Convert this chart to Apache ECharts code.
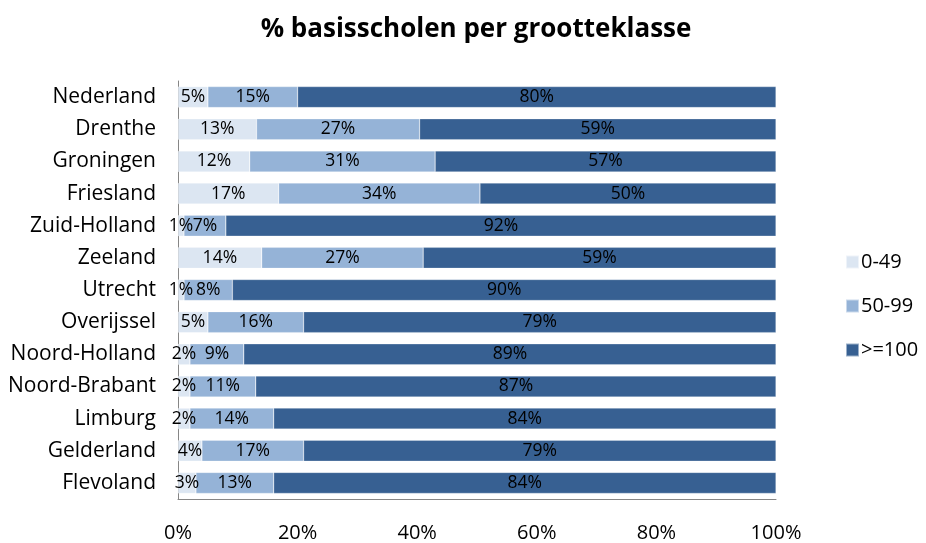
<!DOCTYPE html>
<html><head><meta charset="utf-8">
<script src="https://cdn.jsdelivr.net/npm/echarts@6/dist/echarts.min.js"></script>
<style>html,body{margin:0;padding:0;background:#fff}#c{width:926px;height:543px}</style>
</head><body><div id="c"></div>
<script>
const categories = ['Nederland','Drenthe','Groningen','Friesland','Zuid-Holland','Zeeland','Utrecht','Overijssel','Noord-Holland','Noord-Brabant','Limburg','Gelderland','Flevoland'];
const small = [5,13,12,17,1,14,1,5,2,2,2,4,3];
const medium = [15,27,31,34,7,27,8,16,9,11,14,17,13];
const large = [80,59,57,50,92,59,90,79,89,87,84,79,84];
const seriesNames = ['0-49','50-99','>=100'];
const xTicks = ['0%','20%','40%','60%','80%','100%'];
const colors = ['#dce6f2','#95b3d7','#376092'];
const FONT = 'Open Sans';

const totals = categories.map((c,i)=>small[i]+medium[i]+large[i]);
function mk(name, arr, color){
  return {
    name, type:'bar', stack:'all', barWidth:21,
    itemStyle:{color, borderColor:'rgba(255,255,255,0.5)', borderWidth:0.5},
    label:{show:true, position:'inside', color:'#000', fontFamily:FONT, fontSize:17.5,
      formatter:p=>arr[p.dataIndex]+'%'},
    data: arr.map((v,i)=>v/totals[i]*100)
  };
}
const chart = echarts.init(document.getElementById('c'));
chart.setOption({
  animation:false,
  title:{text:'% basisscholen per grootteklasse', left:471, top:12, textAlign:'center',
    textStyle:{fontFamily:FONT, fontSize:26, fontWeight:'bold', color:'#000'}},
  legend:{orient:'vertical', left:840, top:247, itemWidth:13, itemHeight:13, itemGap:24,
    icon:'rect', data:seriesNames,
    textStyle:{fontFamily:FONT, fontSize:20, color:'#000', padding:[0,0,0,-3]}},
  grid:{left:178, right:150, top:81, bottom:40, containLabel:false},
  xAxis:{type:'value', min:0, max:100, interval:20,
    axisLine:{show:true, lineStyle:{color:'#868686'}}, axisTick:{show:false},
    splitLine:{show:false},
    axisLabel:{fontFamily:FONT, fontSize:20, color:'#000', margin:24,
      formatter:v=>xTicks[Math.round(v/20)]}},
  yAxis:{type:'category', data:categories, inverse:true,
    axisLine:{show:true, lineStyle:{color:'#868686'}}, axisTick:{show:false},
    axisLabel:{fontFamily:FONT, fontSize:21, color:'#000', margin:22}},
  series:[mk(seriesNames[0],small,colors[0]), mk(seriesNames[1],medium,colors[1]), mk(seriesNames[2],large,colors[2])]
});
</script></body></html>
